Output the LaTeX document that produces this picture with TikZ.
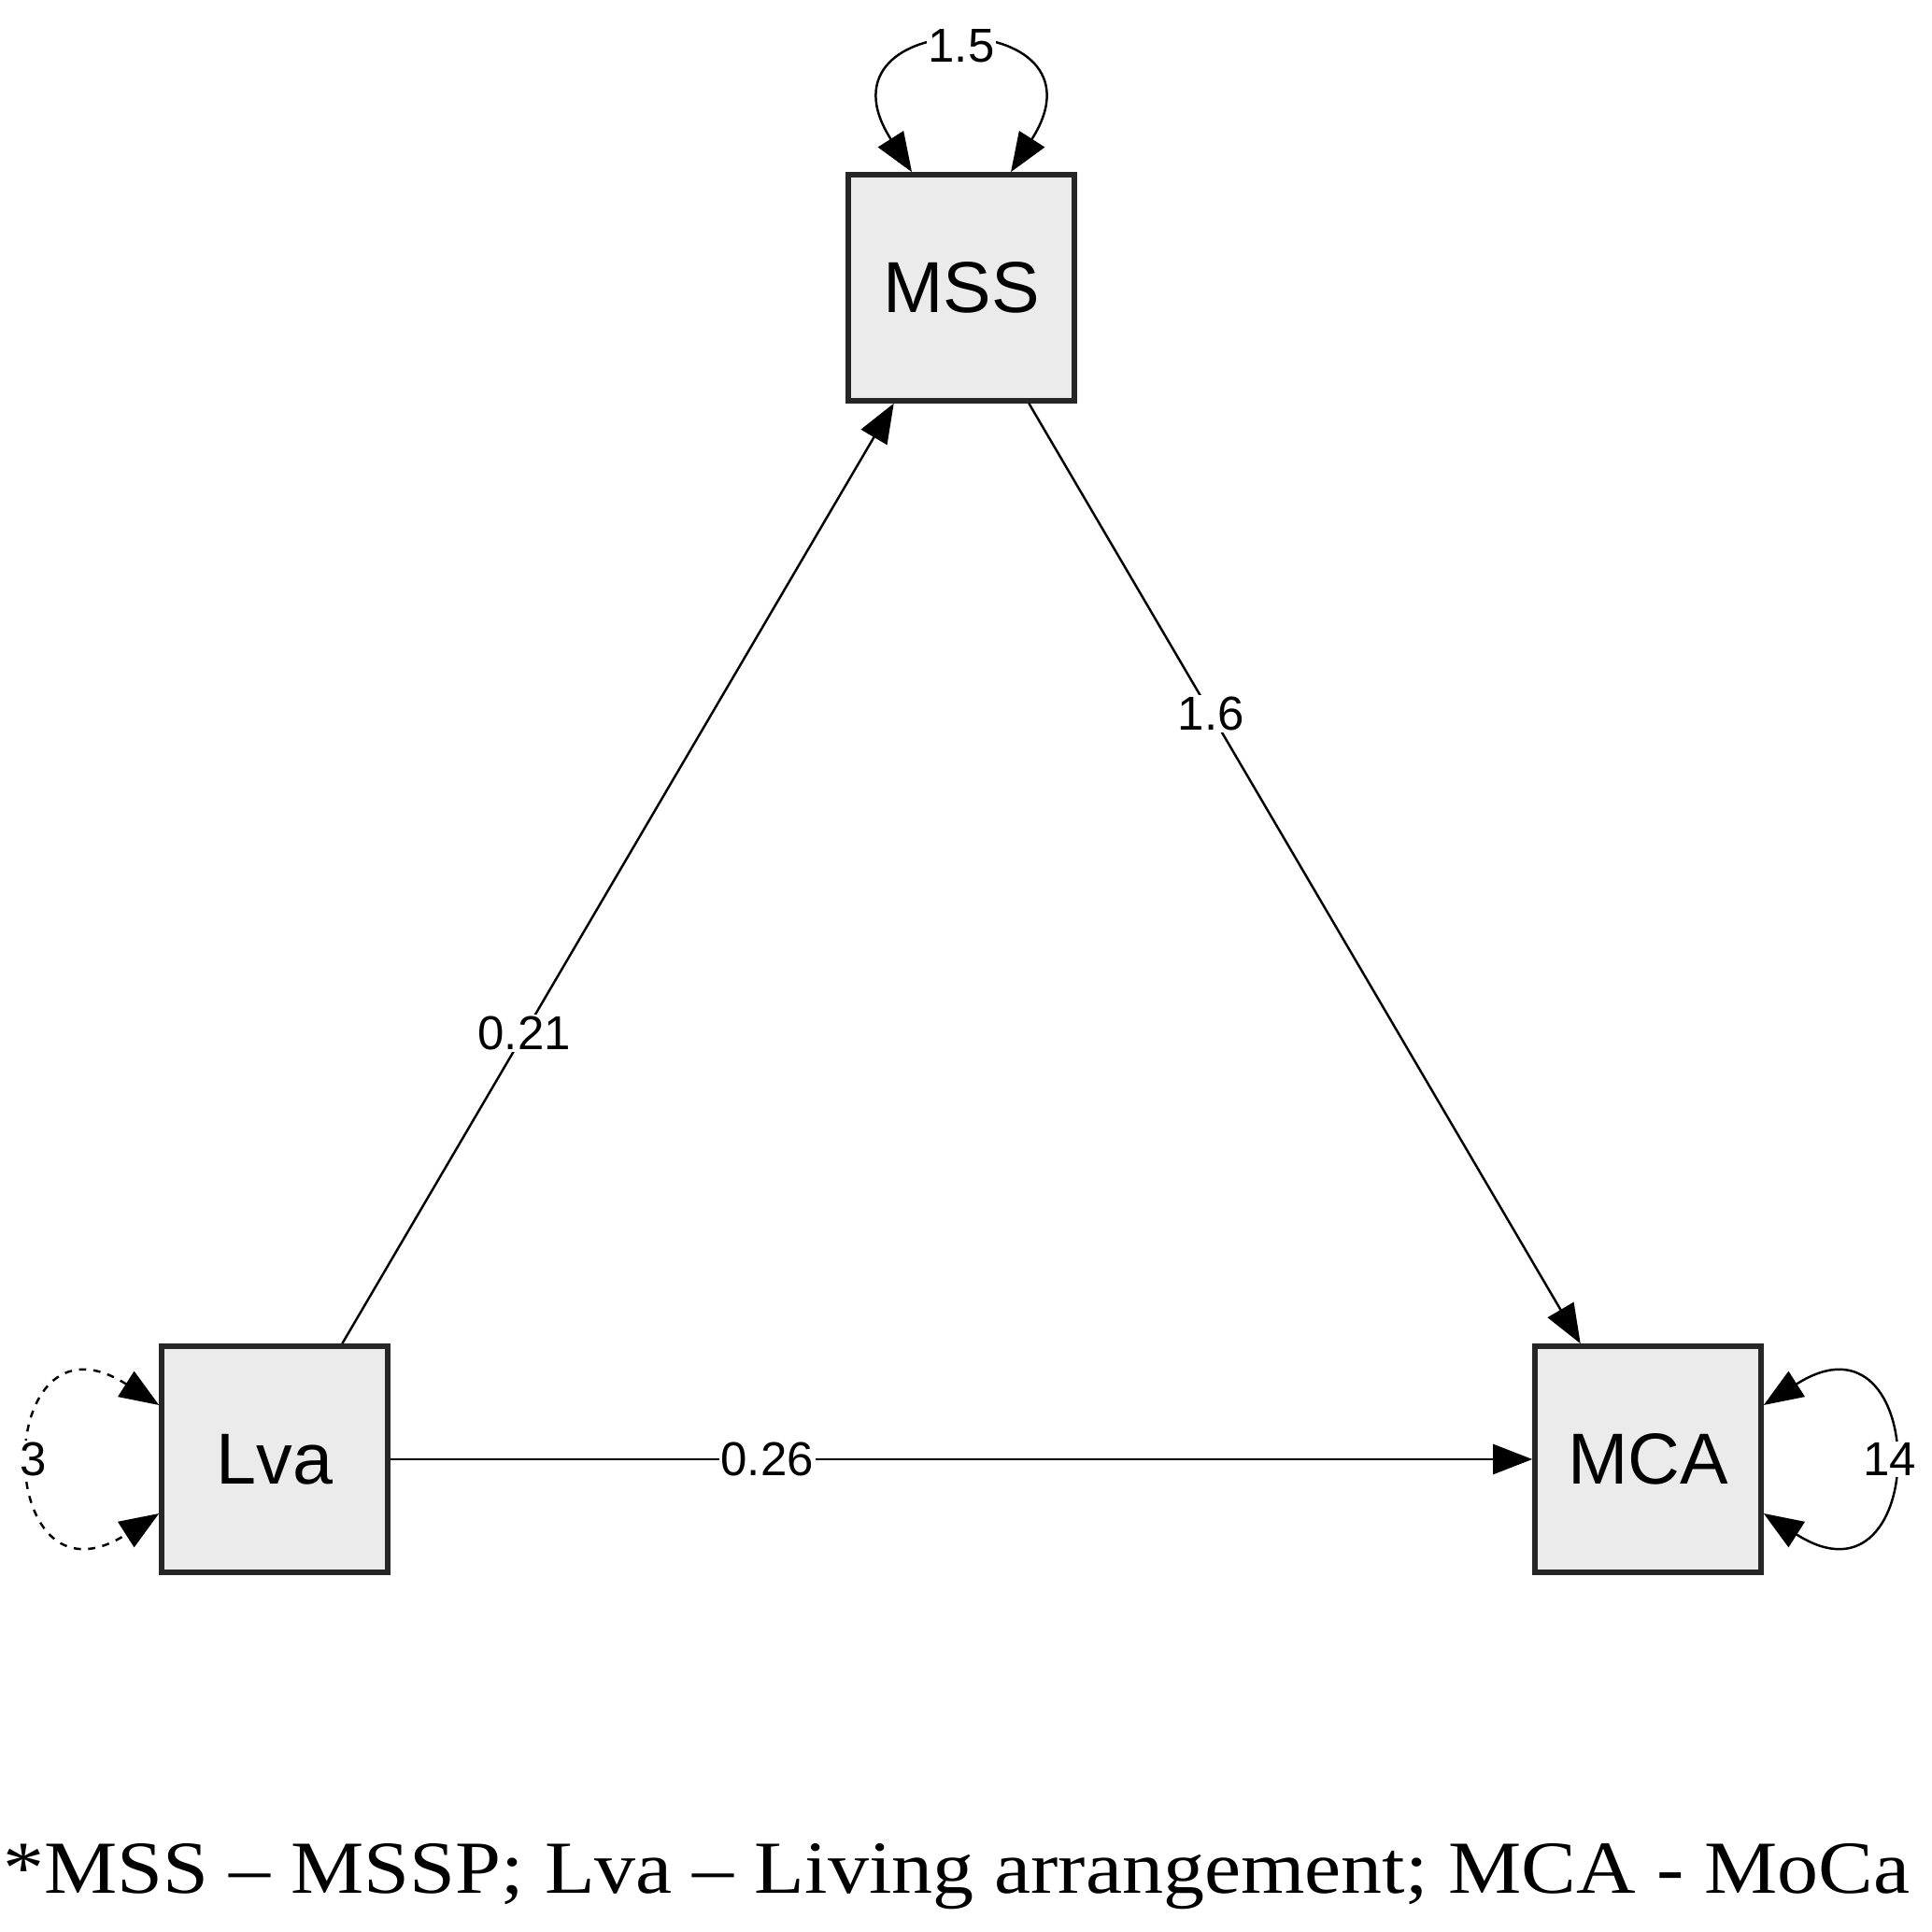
\documentclass[tikz,border=0pt]{standalone}
\usepackage{fontspec}
\setmainfont{Liberation Serif}
\newfontfamily\arialfont{Liberation Sans}
\usetikzlibrary{arrows.meta}
\definecolor{boxgray}{HTML}{EBEBEB}

\begin{document}
\begin{tikzpicture}[>={Triangle[length=0.42cm,width=0.32cm]},
  var/.style={draw=black!85,line width=1.6pt,fill=boxgray,minimum size=2.42cm,inner sep=0pt,
    font=\arialfont\fontsize{22}{26}\selectfont},
  coef/.style={fill=white,inner sep=0.5pt,font=\arialfont\fontsize{14.5}{17}\selectfont},
  effect/.style={->,line width=0.7pt},
  varloop/.style={<->,line width=0.7pt}]
  \useasboundingbox (0,0) rectangle (20.68,20.68);

  % observed variables
  \node[var] (MSS) at (10.29,17.60) {MSS};
  \node[var] (Lva) at (2.94,5.06) {Lva};
  \node[var] (MCA) at (17.64,5.06) {MCA};

  % paths
  \draw[effect] (Lva) -- node[coef,pos=0.33] {0.21} (MSS);
  \draw[effect] (MSS) -- node[coef,pos=0.33] {1.6} (MCA);
  \draw[effect] (Lva) -- node[coef,pos=0.33] {0.26} (MCA);

  % variances
  \draw[varloop] ([xshift=-0.53cm]MSS.north) .. controls +(-1.15,1.8) and +(1.15,1.8) ..
    node[coef] (vMSS) {1.5} ([xshift=0.53cm]MSS.north);
  \draw[varloop,dash pattern=on 2.2pt off 2.2pt] ([yshift=0.58cm]Lva.west) .. controls +(-1.8,1.15) and +(-1.8,-1.15) ..
    node[coef] (vLva) {3} ([yshift=-0.58cm]Lva.west);
  \draw[varloop] ([yshift=0.58cm]MCA.east) .. controls +(1.8,1.15) and +(1.8,-1.15) ..
    node[coef] (vMCA) {14} ([yshift=-0.58cm]MCA.east);

  % footnote
  \node[anchor=base,inner sep=0pt,font=\fontsize{22.8}{26}\selectfont] (note) at (10.24,0.41)
    {\scalebox{1.098}[1]{*MSS – MSSP; Lva – Living arrangement; MCA - MoCa}};
\end{tikzpicture}
\end{document}
